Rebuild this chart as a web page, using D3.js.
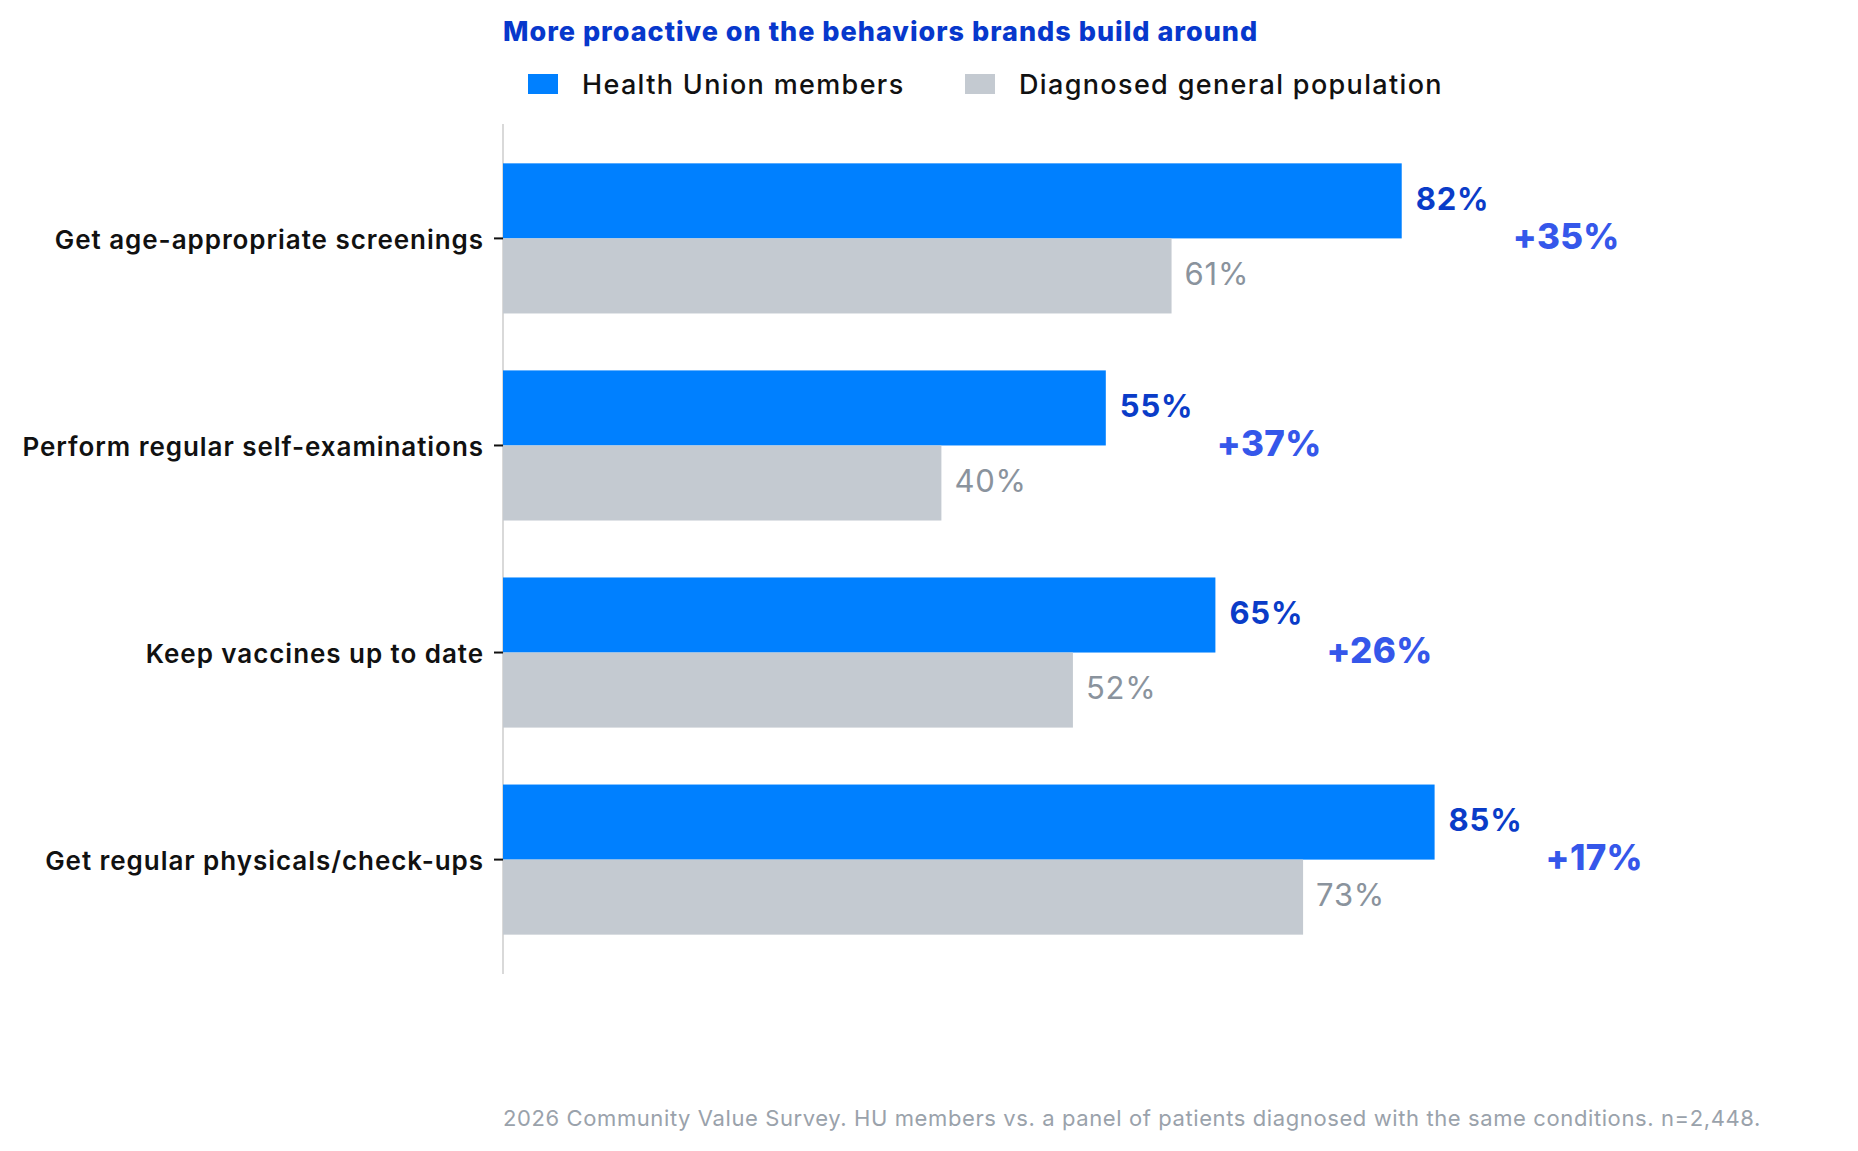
<!DOCTYPE html>
<html>
<head>
<meta charset="utf-8">
<script src="https://cdn.jsdelivr.net/npm/d3@7"></script>
<style>
  html, body { margin: 0; padding: 0; background: #ffffff; }
  svg { display: block; font-family: Inter, "Noto Sans", sans-serif; }
</style>
</head>
<body>
<svg id="chart" width="1858" height="1151"></svg>
<script>
const categories = [
  "Get age-appropriate screenings",
  "Perform regular self-examinations",
  "Keep vaccines up to date",
  "Get regular physicals/check-ups"
];
const seriesNames = ["Health Union members", "Diagnosed general population"];
const huValues = [82, 55, 65, 85];
const genValues = [61, 40, 52, 73];
const liftLabels = ["+35%", "+37%", "+26%", "+17%"];
const titleText = "More proactive on the behaviors brands build around";
const footnoteText = "2026 Community Value Survey. HU members vs. a panel of patients diagnosed with the same conditions. n=2,448.";

const colors = { hu: "#0080ff", gen: "#c4cad1", huLabel: "#0a3cc8", genLabel: "#8a939d", lift: "#3557ea", title: "#0738cc" };

const svg = d3.select("#chart");
const plotLeft = 503, plotTop = 124, plotBottom = 974;

const x = d3.scaleLinear().domain([0, 100]).range([plotLeft, plotLeft + 1096]);
const y = d3.scaleBand().domain(categories).range([plotTop, plotBottom]).paddingInner(0.275).paddingOuter(0.19);
const sub = d3.scaleBand().domain(["hu", "gen"]).range([0, y.bandwidth()]);

// title
svg.append("text").attr("x", plotLeft).attr("y", 41).text(titleText)
  .attr("fill", colors.title).attr("font-size", 27).attr("font-weight", 800)
  .attr("letter-spacing", 1.0);

// legend
const legend = svg.append("g");
const legItems = [
  { name: seriesNames[0], color: colors.hu, x: 528 },
  { name: seriesNames[1], color: colors.gen, x: 965 }
];
legItems.forEach(d => {
  legend.append("rect").attr("x", d.x).attr("y", 74).attr("width", 30).attr("height", 20).attr("fill", d.color);
  legend.append("text").attr("x", d.x + 54).attr("y", 84).attr("dy", "0.36em")
    .attr("font-size", 27).attr("font-weight", 500).attr("fill", "#111")
    .attr("letter-spacing", 1.35).text(d.name);
});

// axis
const yAxis = d3.axisLeft(y).tickSize(9).tickPadding(10);
const ax = svg.append("g").attr("transform", `translate(${plotLeft},0)`).call(yAxis);
ax.select(".domain").attr("stroke", "#d9d9d9").attr("stroke-width", 2).attr("d", `M0,${plotTop}V${plotBottom}`);
ax.selectAll(".tick line").attr("stroke", "#111").attr("stroke-width", 2);
ax.selectAll(".tick text").attr("font-size", 26).attr("font-weight", 600).attr("fill", "#111")
  .attr("font-family", "Inter, sans-serif").attr("letter-spacing", 0.95).attr("dy", "0.4em");

const rows = categories.map((c, i) => ({ cat: c, hu: huValues[i], gen: genValues[i], lift: liftLabels[i] }));
const g = svg.append("g");
const grp = g.selectAll("g.row").data(rows).join("g").attr("class", "row")
  .attr("transform", d => `translate(0,${y(d.cat)})`);

grp.append("rect").attr("x", x(0)).attr("y", sub("hu")).attr("height", sub.bandwidth())
  .attr("width", d => x(d.hu) - x(0)).attr("fill", colors.hu);
grp.append("rect").attr("x", x(0)).attr("y", sub("gen")).attr("height", sub.bandwidth())
  .attr("width", d => x(d.gen) - x(0)).attr("fill", colors.gen);

grp.append("text").attr("x", d => x(d.hu) + 14).attr("y", sub("hu") + sub.bandwidth() / 2 - 2)
  .attr("dy", "0.36em").attr("font-size", 31).attr("font-weight", 700).attr("fill", colors.huLabel)
  .attr("letter-spacing", 0.8).text(d => d.hu + "%");
grp.append("text").attr("x", d => x(d.gen) + 13).attr("y", sub("gen") + sub.bandwidth() / 2 - 2)
  .attr("dy", "0.36em").attr("font-size", 31).attr("font-weight", 400).attr("fill", colors.genLabel)
  .attr("letter-spacing", 0.8).text(d => d.gen + "%");
grp.append("text").attr("x", d => x(d.hu) + 111).attr("y", y.bandwidth() / 2 - 2)
  .attr("dy", "0.36em").attr("font-size", 35).attr("font-weight", 800).attr("fill", colors.lift)
  .attr("letter-spacing", 0.3).text(d => d.lift);

// footnote
svg.append("text").attr("x", plotLeft).attr("y", 1118).attr("dy", "0.36em").text(footnoteText)
  .attr("font-size", 22).attr("font-weight", 400).attr("fill", "#9aa2ab")
  .attr("letter-spacing", 0.6);
</script>
</body>
</html>
